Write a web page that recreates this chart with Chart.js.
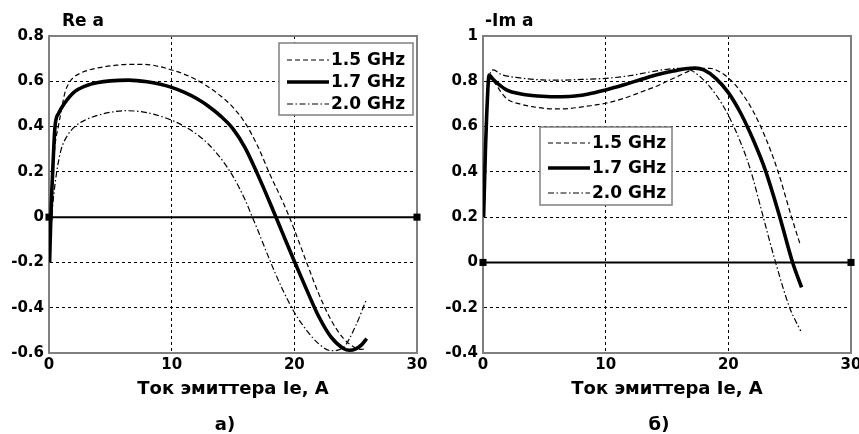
<!DOCTYPE html>
<html><head><meta charset="utf-8">
<script src="https://cdn.jsdelivr.net/npm/chart.js@4.4.1/dist/chart.umd.min.js"></script>
<style>
html,body{margin:0;padding:0;background:#fff;}
#wrap{position:relative;width:859px;height:434px;overflow:hidden;background:#fff;}
canvas{position:absolute;top:0;}
</style></head><body>
<div id="wrap">
<canvas id="cA" width="430" height="434" style="left:0;width:430px;height:434px"></canvas>
<canvas id="cB" width="429" height="434" style="left:430px;width:429px;height:434px"></canvas>
</div>
<script>
// ---------- data ----------
const SERIES = ['1.5 GHz', '1.7 GHz', '2.0 GHz'];
const X_TICKS = [0, 10, 20, 30];
const RE_Y_TICKS = [-0.6, -0.4, -0.2, 0, 0.2, 0.4, 0.6, 0.8];
const IM_Y_TICKS = [-0.4, -0.2, 0, 0.2, 0.4, 0.6, 0.8, 1];
const ZERO_X = [0, 30];
const ZERO_Y = [0, 0];

// Re a
const re15X = [0.1, 0.3, 0.5, 0.76, 1.0, 1.3, 1.6, 2.0, 2.6, 3.4, 4.5, 5.5, 6.5, 8, 9, 10, 11, 12, 13, 14, 15, 16, 17, 18, 19, 19.6, 20, 21, 22, 23, 24, 25, 25.5, 25.9];
const re15Y = [-0.1, 0.18, 0.32, 0.4, 0.47, 0.55, 0.59, 0.617, 0.637, 0.652, 0.664, 0.671, 0.675, 0.674, 0.665, 0.65, 0.632, 0.607, 0.575, 0.535, 0.485, 0.415, 0.315, 0.19, 0.075, 0.0, -0.055, -0.2, -0.34, -0.455, -0.535, -0.578, -0.584, -0.578];
const re17X = [0.05, 0.15, 0.3, 0.49, 0.8, 1.3, 2, 3, 4, 5, 6.5, 8, 9, 10, 11, 12, 13, 14, 15, 16, 17, 18, 18.5, 19, 20, 21, 22, 23, 24, 24.5, 25, 25.5, 25.9];
const re17Y = [-0.2, 0.0, 0.2, 0.4, 0.46, 0.505, 0.55, 0.58, 0.595, 0.602, 0.605, 0.598, 0.588, 0.573, 0.552, 0.525, 0.49, 0.446, 0.39, 0.305, 0.19, 0.065, 0.0, -0.065, -0.195, -0.32, -0.44, -0.53, -0.58, -0.588, -0.582, -0.563, -0.536];
const re20X = [0.1, 0.3, 0.63, 1, 1.5, 2.1, 3, 4, 5, 6.3, 7.5, 8.5, 10, 11, 12, 13, 14, 15, 16, 16.5, 17, 18, 19, 20, 21, 22, 23, 24, 25, 25.9];
const re20Y = [-0.1, 0.05, 0.2, 0.3, 0.36, 0.4, 0.43, 0.45, 0.463, 0.47, 0.466, 0.455, 0.428, 0.402, 0.368, 0.322, 0.26, 0.18, 0.075, 0.01, -0.055, -0.19, -0.315, -0.42, -0.5, -0.56, -0.59, -0.575, -0.48, -0.36];

// -Im a
const im15X = [0.1, 0.3, 0.6, 1, 1.5, 2, 3, 4, 5.8, 7, 8.5, 10, 11.5, 13, 14, 15, 16, 17, 17.5, 18.5, 19, 20, 21, 22, 23, 24, 25.1, 25.85];
const im15Y = [0.3, 0.7, 0.81, 0.79, 0.75, 0.72, 0.7, 0.688, 0.678, 0.68, 0.69, 0.703, 0.725, 0.755, 0.775, 0.8, 0.825, 0.85, 0.857, 0.857, 0.85, 0.815, 0.755, 0.67, 0.555, 0.41, 0.21, 0.08];
const im17X = [0.05, 0.2, 0.3, 0.5, 0.8, 1.2, 2, 3, 4, 5.5, 7, 8.5, 10, 11.5, 13, 14.5, 15.5, 16.5, 17.3, 18, 19, 20, 21, 22, 23, 24.2, 25.24, 25.97];
const im17Y = [0.2, 0.5, 0.65, 0.828, 0.81, 0.79, 0.76, 0.745, 0.737, 0.732, 0.733, 0.743, 0.762, 0.785, 0.81, 0.833, 0.845, 0.855, 0.858, 0.85, 0.812, 0.75, 0.66, 0.545, 0.41, 0.2, 0.0, -0.11];
const im20X = [0.1, 0.3, 0.84, 1.5, 3, 4.8, 6, 8, 10, 12, 13.5, 15, 16, 16.5, 17, 18, 19, 20, 21, 21.8, 22.8, 23.8, 25, 25.9];
const im20Y = [0.3, 0.7, 0.85, 0.83, 0.815, 0.806, 0.805, 0.808, 0.813, 0.825, 0.84, 0.853, 0.857, 0.857, 0.848, 0.805, 0.74, 0.65, 0.53, 0.41, 0.21, 0.01, -0.2, -0.303];

// ---------- helpers ----------
const FONT = 'DejaVu Sans';
const pts = (xs, ys) => xs.map((x, i) => ({x, y: ys[i]}));

const STYLES = [
  {borderColor: '#000', borderWidth: 1.2, borderDash: [5, 3]},
  {borderColor: '#000', borderWidth: 3.6, borderDash: []},
  {borderColor: '#000', borderWidth: 1.2, borderDash: [6, 2.5, 1.5, 2.5]}
];

function datasets(list) {
  const ds = list.map((d, i) => Object.assign({
    label: SERIES[i], data: pts(d[0], d[1]),
    pointRadius: 0, fill: false, cubicInterpolationMode: 'monotone'
  }, STYLES[i]));
  ds.push({
    label: 'zero', data: pts(ZERO_X, ZERO_Y), borderColor: '#000', borderWidth: 2,
    pointStyle: 'rect', pointRadius: 5, pointBackgroundColor: '#000', pointBorderColor: '#000',
    pointBorderWidth: 0, clip: false
  });
  return ds;
}

const decor = {
  id: 'decor',
  beforeDatasetsDraw(chart) {
    const {ctx, chartArea: a} = chart;
    ctx.save();
    ctx.strokeStyle = '#808080';
    ctx.lineWidth = 2;
    ctx.strokeRect(a.left, a.top, a.right - a.left, a.bottom - a.top);
    ctx.restore();
  },
  afterDatasetsDraw(chart, args, o) {
    const {ctx} = chart;
    ctx.save();
    const L = o.legend;
    ctx.fillStyle = '#fff';
    ctx.fillRect(L.x, L.y, L.w, L.h);
    ctx.strokeStyle = '#808080';
    ctx.lineWidth = 1.5;
    ctx.strokeRect(L.x, L.y, L.w, L.h);
    chart.data.datasets.slice(0, 3).forEach((ds, i) => {
      const yy = L.y + L.first + i * L.row;
      ctx.strokeStyle = ds.borderColor;
      ctx.lineWidth = ds.borderWidth;
      ctx.setLineDash(ds.borderDash || []);
      ctx.beginPath();
      ctx.moveTo(L.x + 8, yy);
      ctx.lineTo(L.x + 8 + L.line, yy);
      ctx.stroke();
      ctx.setLineDash([]);
      ctx.fillStyle = '#000';
      ctx.font = 'bold 17px "' + FONT + '"';
      ctx.textBaseline = 'middle';
      ctx.textAlign = 'left';
      ctx.fillText(ds.label, L.x + 10 + L.line, yy + 1);
    });
    ctx.fillStyle = '#000';
    ctx.font = 'bold 17px "' + FONT + '"';
    ctx.textBaseline = 'alphabetic';
    ctx.textAlign = 'left';
    ctx.fillText(o.title, o.titleX, o.titleY);
    ctx.font = 'bold 18px "' + FONT + '"';
    ctx.textAlign = 'center';
    ctx.textBaseline = 'middle';
    ctx.fillText(o.caption, o.capX, o.capY);
    ctx.restore();
  }
};

function options(yTicks, leftW, padRight, legend, title, titleX, caption, capX) {
  const tickFont = {family: FONT, weight: 'bold', size: 15};
  return {
    responsive: false, animation: false, devicePixelRatio: 1,
    layout: {padding: {left: 0, top: 36, right: padRight, bottom: 0}},
    plugins: {
      legend: {display: false}, tooltip: {enabled: false},
      decor: {legend, title, titleX, titleY: 26, caption, capX, capY: 425}
    },
    scales: {
      x: {
        type: 'linear', min: X_TICKS[0], max: X_TICKS[X_TICKS.length - 1],
        afterBuildTicks: s => { s.ticks = X_TICKS.map(v => ({value: v})); },
        afterFit: s => { s.height = 81; s.paddingLeft = 0; s.paddingRight = 0; },
        grid: {color: '#000', lineWidth: 1, drawTicks: false},
        border: {display: true, color: '#808080', width: 2, dash: [3, 3]},
        ticks: {color: '#000', font: tickFont, padding: 3, maxRotation: 0, autoSkip: false, callback: v => String(v)},
        title: {display: true, text: 'Ток эмиттера Ie, A', color: '#000',
          font: {family: FONT, weight: 'bold', size: 18}, padding: {top: 0, bottom: 34}}
      },
      y: {
        type: 'linear', min: yTicks[0], max: yTicks[yTicks.length - 1],
        afterBuildTicks: s => { s.ticks = yTicks.map(v => ({value: v})); },
        afterFit: s => { s.width = leftW; s.paddingTop = 0; s.paddingBottom = 0; },
        grid: {color: '#000', lineWidth: 1, drawTicks: false},
        border: {display: true, color: '#808080', width: 2, dash: [3, 3]},
        ticks: {color: '#000', font: tickFont, padding: 5, autoSkip: false, callback: v => String(v)}
      }
    }
  };
}

new Chart(document.getElementById('cA'), {
  type: 'line',
  data: {datasets: datasets([[re15X, re15Y], [re17X, re17Y], [re20X, re20Y]])},
  options: options(RE_Y_TICKS, 49, 13, {x: 279, y: 43, w: 134, h: 72, first: 17, row: 22, line: 42},
    'Re a', 62, 'а)', 225),
  plugins: [decor]
});

new Chart(document.getElementById('cB'), {
  type: 'line',
  data: {datasets: datasets([[im15X, im15Y], [im17X, im17Y], [im20X, im20Y]])},
  options: options(IM_Y_TICKS, 53, 8, {x: 110, y: 127, w: 132, h: 78, first: 16, row: 25, line: 42},
    '-Im a', 55, 'б)', 229),
  plugins: [decor]
});
</script>
</body></html>
